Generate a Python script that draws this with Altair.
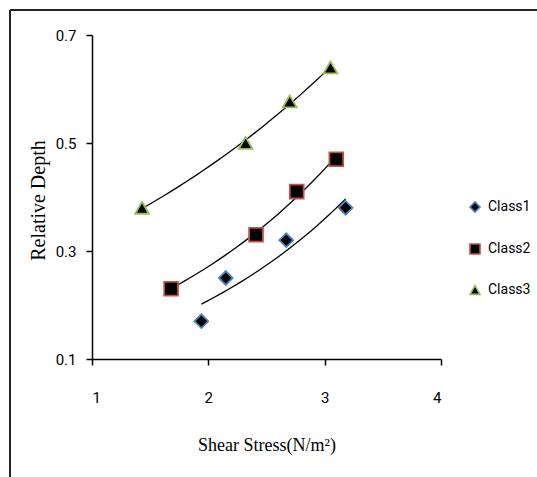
import altair as alt
import pandas as pd

class_names = ["Class1", "Class2", "Class3"]
class1_x = [1.94, 2.15, 2.67, 3.18]
class1_y = [0.17, 0.25, 0.32, 0.38]
class2_x = [1.68, 2.41, 2.76, 3.10]
class2_y = [0.23, 0.33, 0.41, 0.47]
class3_x = [1.43, 2.32, 2.70, 3.05]
class3_y = [0.38, 0.50, 0.577, 0.64]

x_ticks = [1, 2, 3, 4]
y_ticks = [0.1, 0.3, 0.5, 0.7]

rows = []
for name, xs, ys in zip(class_names, [class1_x, class2_x, class3_x], [class1_y, class2_y, class3_y]):
    for xv, yv in zip(xs, ys):
        rows.append({"cls": name, "x": xv, "y": yv})
df = pd.DataFrame(rows)

W, H = 349, 324
LEFT, TOP = 92, 35
SANS = "Roboto"

xscale = alt.Scale(domain=[1, 4], nice=False, zero=False)
yscale = alt.Scale(domain=[0.1, 0.7], nice=False, zero=False)

base = alt.Chart(df)

lines = base.transform_regression(
    "x", "y", groupby=["cls"], method="exp"
).mark_line(color="black", strokeWidth=1.3).encode(
    x=alt.X("x:Q", scale=xscale),
    y=alt.Y("y:Q", scale=yscale),
    detail="cls:N",
)

leg = alt.Legend(title=None, orient="none", legendX=376, legendY=165,
                 symbolFillColor="black", symbolStrokeWidth=1.6, symbolSize=100,
                 labelFont=SANS, labelFontSize=14, labelColor="black",
                 rowPadding=24, labelOffset=6)

points = base.mark_point(filled=False, fill="black", fillOpacity=1, strokeWidth=1.8, size=190, opacity=1).encode(
    x=alt.X("x:Q", scale=xscale,
            axis=alt.Axis(values=x_ticks, format="d", title="Shear Stress(N/m\u00b2)",
                          titleY=86, titleBaseline="middle")),
    y=alt.Y("y:Q", scale=yscale,
            axis=alt.Axis(values=y_ticks, format=".1f", title="Relative Depth",
                          titleX=-54, titleY=165, titleAngle=-90, titleAlign="center",
                          titleBaseline="middle")),
    shape=alt.Shape("cls:N", scale=alt.Scale(domain=class_names, range=["diamond", "square", "triangle-up"]),
                    legend=leg),
    stroke=alt.Stroke("cls:N", scale=alt.Scale(domain=class_names, range=["#4F81BD", "#C0504D", "#9BBB59"]),
                      legend=leg),
)

frame_top = alt.Chart(df).mark_rule(color="#222222", strokeWidth=1).encode(
    x=alt.value(10 - LEFT), x2=alt.value(537 - LEFT), y=alt.value(10 - TOP)
)
frame_left = alt.Chart(df).mark_rule(color="#222222", strokeWidth=1).encode(
    x=alt.value(10 - LEFT), y=alt.value(10 - TOP), y2=alt.value(477 - TOP)
)

chart = alt.layer(lines, points, frame_top, frame_left).properties(
    width=W, height=H,
    autosize=alt.AutoSizeParams(type="none"),
    padding={"left": LEFT, "top": TOP, "right": 537 - LEFT - W, "bottom": 477 - TOP - H},
    background="white",
).configure_view(stroke=None).configure_axis(
    domainColor="black", domainWidth=1.5, tickColor="black", tickWidth=1.5, tickSize=6,
    grid=False, labelFont=SANS, labelFontSize=15, labelColor="black",
    titleFont="Liberation Serif", titleFontWeight="normal", titleColor="black",
).configure_axisX(
    labelPadding=25, titleFontSize=18
).configure_axisY(
    labelPadding=10, titleFontSize=20
)

chart.save("out.html", embed_options={"renderer": "svg", "actions": False})
